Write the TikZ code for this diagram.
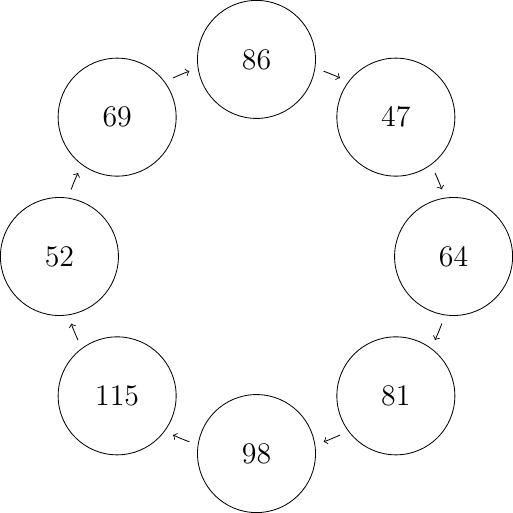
\documentclass[tikz,border=0pt]{standalone}
\usetikzlibrary{arrows}
\begin{document}
\begin{tikzpicture}[
  ringnode/.style={draw, circle, minimum size=2cm, inner sep=0pt, font=\Large},
  ringarrow/.style={->}
]
\useasboundingbox (-4.347,-4.347) rectangle (4.347,4.347);
\def\R{3.34}
\node[ringnode] (n86) at (90:\R) {86};
\node[ringnode] (n47) at (45:\R) {47};
\node[ringnode] (n64) at (0:\R) {64};
\node[ringnode] (n81) at (-45:\R) {81};
\node[ringnode] (n98) at (-90:\R) {98};
\node[ringnode] (n115) at (-135:\R) {115};
\node[ringnode] (n52) at (180:\R) {52};
\node[ringnode] (n69) at (135:\R) {69};
\foreach \m [count=\i] in {112.5,67.5,22.5,-22.5,-67.5,-112.5,-157.5,-202.5}{
  \coordinate (s\i) at ({\m+2.6}:\R);
  \draw[ringarrow] (s\i) arc[start angle={\m+2.6}, end angle={\m-2.6}, radius=\R];
}
\end{tikzpicture}
\end{document}
